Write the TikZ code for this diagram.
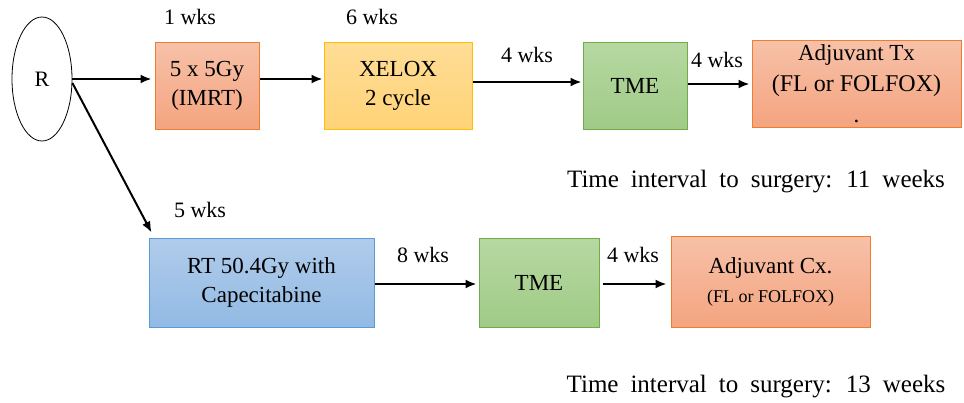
\documentclass[tikz,border=0pt]{standalone}
\usepackage{fontspec}
\setmainfont{Liberation Serif}
\usetikzlibrary{arrows.meta,shapes.geometric,positioning}
\definecolor{orTop}  {RGB}{247,193,168}
\definecolor{orBot}  {RGB}{244,164,128}
\definecolor{orEdge} {RGB}{237,125, 49}
\definecolor{yeTop}  {RGB}{255,221,150}
\definecolor{yeBot}  {RGB}{255,211,120}
\definecolor{yeEdge} {RGB}{255,192,  0}
\definecolor{grTop}  {RGB}{182,216,162}
\definecolor{grBot}  {RGB}{160,203,134}
\definecolor{grEdge} {RGB}{112,173, 71}
\definecolor{blTop}  {RGB}{176,204,235}
\definecolor{blBot}  {RGB}{146,186,228}
\definecolor{blEdge} {RGB}{ 91,155,213}

\tikzset{
  box/.style={draw,line width=1pt,inner sep=0pt,align=center,
              font=\fontsize{23}{29}\selectfont},
  orbox/.style={box,draw=orEdge,top color=orTop,bottom color=orBot},
  yebox/.style={box,draw=yeEdge,top color=yeTop,bottom color=yeBot},
  grbox/.style={box,draw=grEdge,top color=grTop,bottom color=grBot},
  blbox/.style={box,draw=blEdge,top color=blTop,bottom color=blBot},
  wk/.style={inner sep=0pt,font=\fontsize{22}{26}\selectfont},
  interval/.style={inner sep=0pt,font=\fontsize{25}{30}\selectfont},
  arr/.style={line width=2pt,-{Latex[length=11pt,width=9pt]}},
}

\begin{document}
\begin{tikzpicture}[x=1pt,y=-1pt]
\useasboundingbox (0,0) rectangle (964,402);
% randomisation
\node[draw,ellipse,line width=0.8pt,inner sep=0pt,minimum width=60pt,
      minimum height=124pt,font=\fontsize{22}{26}\selectfont] (R) at (42,79) {R};

% short course arm
\node[orbox,minimum width=104pt,minimum height=87pt] (scrt) at (207,85.5) {5 x 5Gy\\(IMRT)};
\node[yebox,minimum width=148pt,minimum height=87pt] (xelox) at (398,85.5) {XELOX\\2 cycle};
\node[grbox,minimum width=104pt,minimum height=87pt] (tmeA) at (635,85.5) {TME};
\node[orbox,minimum width=209pt,minimum height=87pt,
      font=\fontsize{23}{31}\selectfont] (adjA) at (856.5,83.5) {Adjuvant Tx\\{\fontsize{24}{29}\selectfont(FL or FOLFOX)}\\.};

\node[wk] (wA1) at (190,17) {1 wks};
\node[wk] (wA2) at (372,17) {6 wks};
\node[wk] (wA3) at (527,55) {4 wks};
\node[wk] (wA4) at (717,60) {4 wks};

\draw[arr] (R.east) -- ([xshift=-3pt]R.east -| scrt.west);
\draw[arr] ([yshift=6.5pt]scrt.east) -- ([yshift=6.5pt,xshift=-1pt]xelox.west);
\draw[arr] ([yshift=3.5pt]xelox.east) -- ([yshift=3.5pt,xshift=-1pt]tmeA.west);
\draw[arr] ([yshift=1.5pt]tmeA.east) -- ([yshift=-0.5pt,xshift=-2pt]adjA.west);

\node[interval] (tA) at (756,182) {\spaceskip=12pt Time interval to surgery: 11 weeks};

% long course arm
\node[blbox,minimum width=225pt,minimum height=89pt] (lcrt) at (261.5,282.5) {RT 50.4Gy with\\Capecitabine};
\node[grbox,minimum width=120pt,minimum height=89pt] (tmeB) at (539,282.5) {TME};
\node[orbox,minimum width=199pt,minimum height=91pt] (adjB) at (770.5,281.5) {Adjuvant Cx.\\{\fontsize{18}{22}\selectfont(FL or FOLFOX)}};

\node[wk] (wB1) at (200,210) {5 wks};
\node[wk] (wB2) at (423,255) {8 wks};
\node[wk] (wB3) at (633,255) {4 wks};

\draw[arr] ([yshift=-4pt]R.east) -- ([xshift=3pt,yshift=5pt]lcrt.north west);
\draw[arr] ([yshift=-1.5pt]lcrt.east) -- ([yshift=-1.5pt,xshift=-2pt]tmeB.west);
\draw[arr] ([yshift=-1.5pt,xshift=3pt]tmeB.east) -- ([yshift=-2.5pt,xshift=-4pt]adjB.west);

\node[interval] (tB) at (756,387) {\spaceskip=12pt Time interval to surgery: 13 weeks};
\end{tikzpicture}
\end{document}
